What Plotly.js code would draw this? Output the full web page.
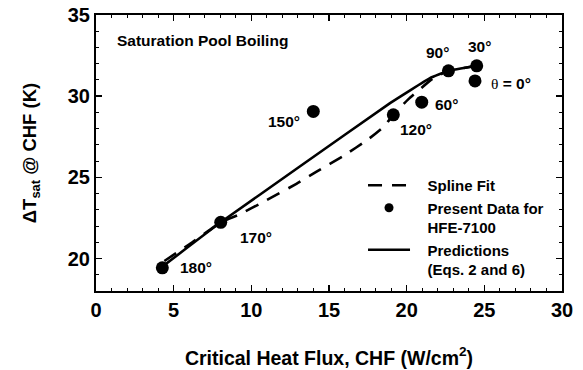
<!DOCTYPE html>
<html>
<head>
<meta charset="utf-8">
<script src="https://cdn.plot.ly/plotly-3.0.1.min.js"></script>
<style>html,body{margin:0;padding:0;background:#fff;}#chart{width:583px;height:370px;}</style>
</head>
<body>
<div id="chart"></div>
<script>
// Measured data: critical heat flux (W/cm^2) vs wall superheat at CHF (K)
const chfData = [4.27, 8.03, 13.99, 19.14, 20.97, 22.69, 24.51, 24.40];
const dTData = [19.43, 22.23, 29.06, 28.85, 29.63, 31.56, 31.87, 30.94];
const angleLabels = ['180°', '170°', '150°', '120°', '60°', '90°', '30°', 'θ = 0°'];

// Spline fit curve
const splineX = [4.4, 6.2, 8.03, 9.2, 10.8, 12.9, 14.2, 15.9, 17.6, 18.5, 19.14, 20.1, 21.7, 22.69, 24.51];
const splineY = [19.85, 21.0, 22.23, 22.7, 23.5, 24.6, 25.35, 26.3, 27.4, 28.1, 28.85, 29.8, 31.1, 31.56, 31.87];

// Predictions (Eqs. 2 and 6)
const predX = [4.27, 8.03, 13.14, 18.93, 21.5, 22.69, 24.51];
const predY = [19.5, 22.23, 25.68, 29.57, 31.11, 31.56, 31.87];

const xTicks = [0, 5, 10, 15, 20, 25, 30];
const yTicks = [20, 25, 30, 35];

// label offsets (px) relative to each point
const labelShift = [[34, 0], [35, -15], [-29, -10], [23, -15], [25, -2], [-11, 18], [3, 19], [36, -3]];

const FONT = 'Liberation Sans, Arial, sans-serif';
const PAD = '&nbsp;&nbsp;&nbsp;';

const traces = [
  {x: splineX, y: splineY, mode: 'lines', name: PAD + 'Spline Fit',
   line: {color: '#000', width: 2.6, dash: '14px,10px', shape: 'spline', smoothing: 0.4},
   legendgroup: 'a'},
  {x: [null], y: [null], mode: 'markers', name: PAD + 'Present Data for<br>' + PAD + 'HFE-7100',
   marker: {color: '#000', size: 9}, legendgroup: 'b'},
  {x: predX, y: predY, mode: 'lines', name: PAD + 'Predictions<br>' + PAD + '(Eqs. 2 and 6)',
   line: {color: '#000', width: 2.6, shape: 'spline', smoothing: 0.3}, legendgroup: 'c'},
  {x: chfData, y: dTData, mode: 'markers', showlegend: false,
   marker: {color: '#000', size: 13}}
];

const annotations = chfData.map((x, i) => ({
  x: x, y: dTData[i], xref: 'x', yref: 'y',
  text: i === 7 ? '<span style="font-family:Liberation Serif;font-weight:normal">θ</span> = 0°' : angleLabels[i],
  showarrow: false, xshift: labelShift[i][0], yshift: labelShift[i][1],
  font: {family: FONT, size: 15.5, color: '#000', weight: 700}
}));
annotations.push({
  xref: 'paper', yref: 'paper', x: 0.041, y: 0.909, xanchor: 'left', yanchor: 'middle',
  text: 'Saturation Pool Boiling', showarrow: false,
  font: {family: FONT, size: 15.5, color: '#000', weight: 700}
});

const axisCommon = {
  showgrid: false, zeroline: false, showline: true, linecolor: '#000', linewidth: 2,
  mirror: 'ticks', ticks: 'inside', ticklen: 6, tickwidth: 1.5, tickcolor: '#000',
  tickfont: {family: FONT, size: 20, color: '#000', weight: 700},
  minor: {dtick: 1, ticks: 'inside', ticklen: 3, tickwidth: 1, tickcolor: '#000'}
};

const layout = {
  width: 583, height: 370,
  margin: {l: 96, r: 21, t: 15, b: 79},
  paper_bgcolor: '#fff', plot_bgcolor: '#fff',
  font: {family: FONT, color: '#000', weight: 700},
  xaxis: Object.assign({}, axisCommon, {
    range: [0, 30], tickvals: xTicks,
    title: {text: 'Critical Heat Flux, CHF (W/cm<sup>2</sup>)', standoff: 31,
            font: {family: FONT, size: 19.5, color: '#000', weight: 700}}
  }),
  yaxis: Object.assign({}, axisCommon, {
    range: [18, 35], tickvals: yTicks,
    title: {text: 'ΔT<sub>sat</sub> @ CHF (K)', standoff: 26,
            font: {family: FONT, size: 18.5, color: '#000', weight: 700}}
  }),
  showlegend: true,
  legend: {x: 0.573, y: 0.442, xanchor: 'left', yanchor: 'top', bgcolor: 'rgba(0,0,0,0)',
           font: {family: FONT, size: 15, color: '#000', weight: 700},
           traceorder: 'grouped', tracegroupgap: 0, valign: 'top', itemwidth: 42},
  annotations: annotations
};

Plotly.newPlot('chart', traces, layout, {displayModeBar: false, staticPlot: true});
</script>
</body>
</html>
